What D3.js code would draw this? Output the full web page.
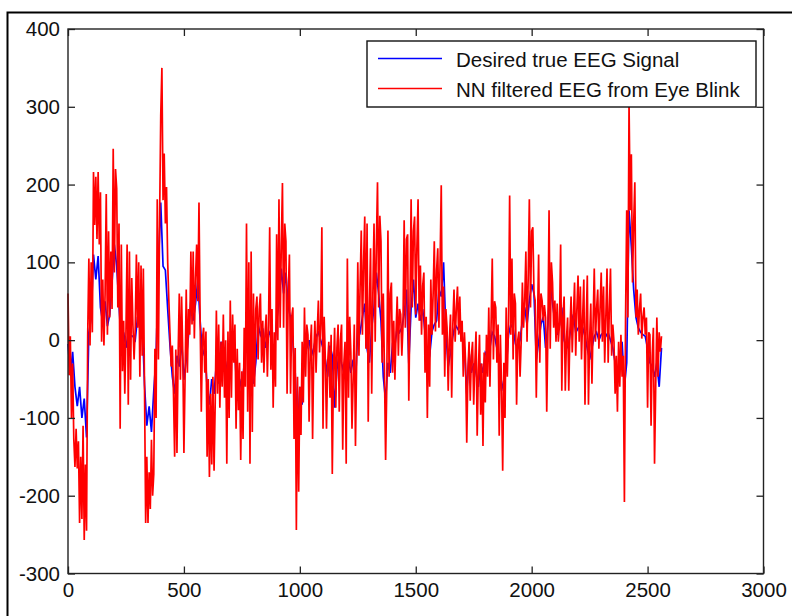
<!DOCTYPE html>
<html>
<head>
<meta charset="utf-8">
<script src="https://cdn.jsdelivr.net/npm/d3@7/dist/d3.min.js"></script>
<style>
  html, body { margin: 0; padding: 0; background: #fff; }
  svg { display: block; }
  text { font-family: "Liberation Sans", Arial, sans-serif; }
</style>
</head>
<body>
<svg id="chart" width="792" height="616"></svg>
<script>
// ---------------- data ----------------
const xTicks = [0, 500, 1000, 1500, 2000, 2500, 3000];
const yTicks = [-300, -200, -100, 0, 100, 200, 300, 400];
const seriesNames = ["Desired true EEG Signal", "NN filtered EEG from Eye Blink"];

// NN filtered EEG (red), one value every 5 samples, in chunks starting at redStarts
const redStep = 5;
const redStarts = [0, 415, 840, 1265, 1690, 2110];
const redA = [60,-45,5,-100,-30,-127,-163,-114,-165,-130,
  -235,-150,-230,-110,-257,-160,-245,7,105,-7,
  100,10,216,148,210,130,216,123,190,-2,
  78,-7,60,188,7,140,29,114,40,246,
  87,220,195,42,150,-114,123,-40,25,-69,
  10,123,-83,114,-51,80,20,-25,15,110,
  16,100,-47,96,-20,92,-60,-235,-150,-235,
  -170,-217,-128,-200,-172,-11,-100,181,-25,150,
  288,350,180];
const redB = [240,150,197,100,51,7,-34,-7,-69,-150,
  -12,-145,-20,60,-51,56,-16,-145,-47,65,
  -42,40,7,114,20,114,2,80,123,50,
  177,25,-92,2,16,-42,11,-150,-50,-176,
  -69,-160,-47,-168,-80,38,-69,20,-87,-2,
  -60,33,-74,0,-159,11,-100,51,-74,33,
  -29,20,-114,-11,-90,-29,-154,-40,-127,16,
  -60,150,-92,100,-159,114,-118,60,-60,40,
  56,-25,40,60,-29];
const redC = [25,-42,10,33,-47,20,145,-38,40,-87,
  10,-60,136,0,181,16,120,202,16,150,
  127,-69,60,110,-69,30,42,-127,-10,-244,
  -47,-195,-60,-122,-2,-80,42,-47,20,7,
  -105,-10,20,-127,-20,25,-42,10,51,-16,
  20,145,-114,30,-25,-114,-30,-2,-74,7,
  -172,-40,16,-87,-10,20,-92,0,20,-141,
  -30,-2,-159,105,-74,30,-16,-114,-50,20,
  -136,-30,100,-20,70];
const redD = [141,7,100,159,-11,150,-105,40,118,-69,
  60,150,-2,120,203,42,160,127,-29,60,
  -38,-154,-60,141,-47,60,74,-42,25,-51,
  10,56,-20,40,33,-20,20,154,16,130,
  136,-78,40,181,42,140,159,33,120,181,
  25,96,7,70,87,-42,30,-100,20,-60,
  78,7,60,127,11,90,118,16,100,199,
  7,69,-47,40,16,-65,0,33,-74,20,
  65,-2,40,69,7];
const redE = [56,-2,25,-47,10,-29,-132,-40,-2,-78,
  -20,-2,-83,-30,11,-123,-40,7,-96,-30,
  -136,-16,-80,7,-47,42,-60,20,105,-25,
  50,42,-29,20,-123,7,-60,-168,-29,-100,
  42,-47,20,186,7,105,-25,60,47,-83,
  0,11,-47,0,74,16,50,114,-2,80,
  181,42,140,145,60,51,-74,20,110,-29,
  60,51,25,45,29,-92,10,167,-11,100,
  74,16,51,-2];
const redF = [47,-2,20,123,-65,30,56,-65,0,29,
  -65,10,56,-16,30,74,-20,40,83,-2,
  69,-25,30,78,-83,20,83,-83,0,47,
  -56,20,92,-2,40,65,-11,40,87,-2,
  69,-29,30,92,-29,40,92,-20,20,-2,
  -69,-20,-92,-2,-60,7,-47,-20,-208,29,
  167,29,305,167,239,74,150,203,29,65,
  7,40,60,2,30,42,7,29,-87,10,
  7,-110,-20,16,-159,-60,29,-47,10,-15,
  5];

// Desired true EEG (blue), one value every 10 samples
const blueStep = 10;
const blueStarts = [0, 420, 850, 1270, 1700, 2110];
const blueA = [-5,-45,-15,-60,-85,-60,-100,-75,-125,10,
  28,110,78,108,42,22,50,18,33,74,
  123,95,45,-5,10,-10,10,6,5,0,
  30,17,28,-57,-110,-85,-118,-65,-20,96,
  177,95];
const blueB = [90,40,-7,-47,-69,-20,-34,0,-51,-25,
  7,51,25,47,77,25,-20,-10,-60,-83,
  -50,-69,-30,-56,-2,-15,-29,-47,-20,-5,
  -16,-78,-50,-65,-30,29,16,-45,-56,-29,
  20,7,15];
const blueC = [-10,5,10,-5,-15,25,47,92,60,87,
  42,29,-2,-42,-122,-60,-83,-7,-10,0,
  -20,-10,5,10,0,-10,-25,-47,-7,-20,
  -87,-38,-16,-30,-42,-16,-25,-42,-25,-56,
  16,10];
const blueD = [30,47,-11,-29,16,42,87,60,25,-47,
  -78,-29,-42,-5,-7,16,10,16,33,65,
  -30,42,78,29,47,25,40,10,-34,-20,
  11,20,25,65,56,100,10,-34,-16,5,
  20,15,10];
const blueE = [5,-10,-69,-16,-42,-30,-42,-60,-30,-42,
  -16,-20,-10,10,5,-10,-20,-65,-51,-38,
  7,20,15,-5,-10,0,25,42,20,51,
  72,60,-25,-2,20,30,-10,20,74,47,
  25];
const blueF = [7,20,42,0,-11,-5,20,33,10,15,
  20,16,5,-11,-25,-10,5,10,0,7,
  10,5,10,0,-10,-29,-47,-20,-2,-60,
  -29,167,120,65,29,16,10,7,5,-11,
  -29,-34,-47,-29,-60,-10];

// ---------------- build point lists ----------------
function toPoints(chunks, starts, step) {
  const pts = [];
  chunks.forEach((arr, c) => {
    arr.forEach((v, i) => pts.push([starts[c] + i * step, v]));
  });
  return pts;
}
const redPts = toPoints([redA, redB, redC, redD, redE, redF], redStarts, redStep);
const bluePts = toPoints([blueA, blueB, blueC, blueD, blueE, blueF], blueStarts, blueStep);

// ---------------- layout ----------------
const svg = d3.select("#chart");
const L = 68, R = 763.5, T = 29, B = 573.5;
const fontSize = "20.5px";

const x = d3.scaleLinear().domain([0, 3000]).range([L, R]);
const y = d3.scaleLinear().domain([-300, 400]).range([B, T]);

svg.append("rect").attr("width", 792).attr("height", 616).attr("fill", "#fff");

// outer figure frame
svg.append("rect")
  .attr("x", 7.5).attr("y", 12.5).attr("width", 820).attr("height", 640)
  .attr("fill", "none").attr("stroke", "#000").attr("stroke-width", 2);

// data lines
const line = d3.line().x(d => x(d[0])).y(d => y(d[1]));
svg.append("path").datum(bluePts)
  .attr("d", line).attr("fill", "none")
  .attr("stroke", "#0000ff").attr("stroke-width", 1.7).attr("stroke-linejoin", "miter");
svg.append("path").datum(redPts)
  .attr("d", line).attr("fill", "none")
  .attr("stroke", "#ff0000").attr("stroke-width", 1.7).attr("stroke-linejoin", "miter");

// axes (inward ticks on all four sides)
const tick = 7;
const fmt = d => String(d);
function styleAxis(g) {
  g.select(".domain").remove();
  g.selectAll(".tick line").attr("stroke", "#222").attr("stroke-width", 1.3);
  g.selectAll("text").attr("fill", "#111").style("font-size", fontSize)
    .style("font-family", '"Liberation Sans", Arial, sans-serif');
}
svg.append("g").attr("transform", `translate(0,${B})`)
  .call(d3.axisBottom(x).tickValues(xTicks).tickFormat(fmt)
    .tickSizeInner(-tick).tickSizeOuter(0).tickPadding(9))
  .call(styleAxis);
svg.append("g").attr("transform", `translate(0,${T})`)
  .call(d3.axisTop(x).tickValues(xTicks).tickFormat("")
    .tickSizeInner(-tick).tickSizeOuter(0))
  .call(styleAxis);
svg.append("g").attr("transform", `translate(${L},0)`)
  .call(d3.axisLeft(y).tickValues(yTicks).tickFormat(fmt)
    .tickSizeInner(-tick).tickSizeOuter(0).tickPadding(8))
  .call(styleAxis);
svg.append("g").attr("transform", `translate(${R},0)`)
  .call(d3.axisRight(y).tickValues(yTicks).tickFormat("")
    .tickSizeInner(-tick).tickSizeOuter(0))
  .call(styleAxis);

// axes box
svg.append("rect")
  .attr("x", L).attr("y", T).attr("width", R - L).attr("height", B - T)
  .attr("fill", "none").attr("stroke", "#222").attr("stroke-width", 1.4);

// legend
const lg = svg.append("g");
lg.append("rect").attr("x", 367).attr("y", 41).attr("width", 389).attr("height", 66)
  .attr("fill", "#fff").attr("stroke", "#111").attr("stroke-width", 1.4);
const legendColors = ["#0000ff", "#ff0000"];
const legendY = [58.5, 88.5];
seriesNames.forEach((name, i) => {
  lg.append("line").attr("x1", 378).attr("x2", 442)
    .attr("y1", legendY[i]).attr("y2", legendY[i])
    .attr("stroke", legendColors[i]).attr("stroke-width", 1.4);
  lg.append("text").attr("x", 456).attr("y", legendY[i] + 8)
    .style("font-size", fontSize).attr("fill", "#111").text(name);
});
</script>
</body>
</html>
